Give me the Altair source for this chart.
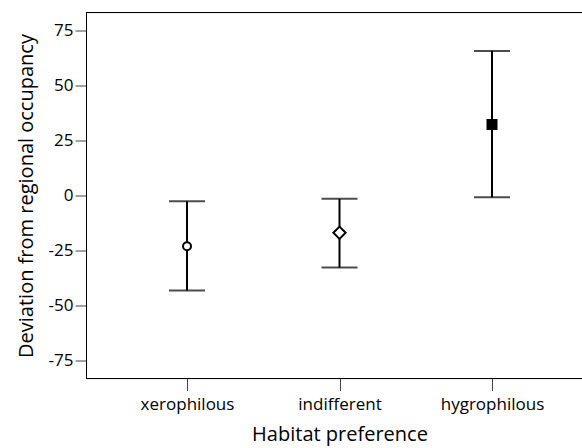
import altair as alt
import pandas as pd

categories = ["xerophilous", "indifferent", "hygrophilous"]
means = [-23.0, -16.9, 32.2]
lower = [-43.1, -32.7, -0.8]
upper = [-2.6, -1.5, 65.5]
shapes = ["circle", "diamond", "square"]
fills = ["white", "white", "black"]
marker_sizes = [64, 150, 81]

df = pd.DataFrame({"cat": categories, "mean": means, "lo": lower, "hi": upper,
                   "msize": marker_sizes})

FONT = "Open Sans"
W, H = 496, 366

x = alt.X("cat:N", sort=categories,
          scale=alt.Scale(type="point", range=[101, 406], padding=0),
          axis=alt.Axis(title="Habitat preference", labelAngle=0, tickSize=12,
                        labelPadding=6, titlePadding=12, domain=False))
yscale = alt.Scale(domain=[-83, 83], nice=False, zero=False)
yaxis = alt.Axis(title="Deviation from regional occupancy",
                 values=[-75, -50, -25, 0, 25, 50, 75],
                 labelExpr="replace(datum.label, '\u2212', '-')",
                 tickSize=11, labelPadding=2, titlePadding=12, domainColor="black")

base = alt.Chart(df)

vline = base.mark_rule(color="black", strokeWidth=2).encode(
    x=x, y=alt.Y("lo:Q", scale=yscale, axis=yaxis), y2="hi:Q")
cap_lo = base.mark_tick(color="black", size=36, thickness=2, orient="horizontal").encode(
    x=alt.X("cat:N", sort=categories), y=alt.Y("lo:Q"))
cap_hi = base.mark_tick(color="black", size=36, thickness=2, orient="horizontal").encode(
    x=alt.X("cat:N", sort=categories), y=alt.Y("hi:Q"))
pts = base.mark_point(stroke="black", strokeWidth=2, opacity=1, filled=False).encode(
    x=alt.X("cat:N", sort=categories),
    y=alt.Y("mean:Q"),
    shape=alt.Shape("cat:N", scale=alt.Scale(domain=categories, range=shapes), legend=None),
    fill=alt.Fill("cat:N", scale=alt.Scale(domain=categories, range=fills), legend=None),
    size=alt.Size("msize:Q", scale=None, legend=None),
)
top = alt.Chart(df).mark_rule(color="black", strokeWidth=1).encode(
    x=alt.value(0), x2=alt.value(W), y=alt.value(0))
bottom = alt.Chart(df).mark_rule(color="black", strokeWidth=1).encode(
    x=alt.value(0), x2=alt.value(W), y=alt.value(H))

chart = alt.layer(top, bottom, vline, cap_lo, cap_hi, pts).properties(
    width=W, height=H,
    autosize=alt.AutoSizeParams(type="none"),
    padding={"left": 86, "top": 12.5, "right": 0, "bottom": 69},
).configure_view(stroke=None).configure(background="white").configure_axis(
    labelFont=FONT, titleFont=FONT, labelFontSize=17, titleFontSize=20,
    titleFontWeight="normal", labelColor="black", titleColor="black",
    tickColor="#444", domainColor="black", grid=False,
)

chart.save("out.html", embed_options={"renderer": "svg", "actions": False})
